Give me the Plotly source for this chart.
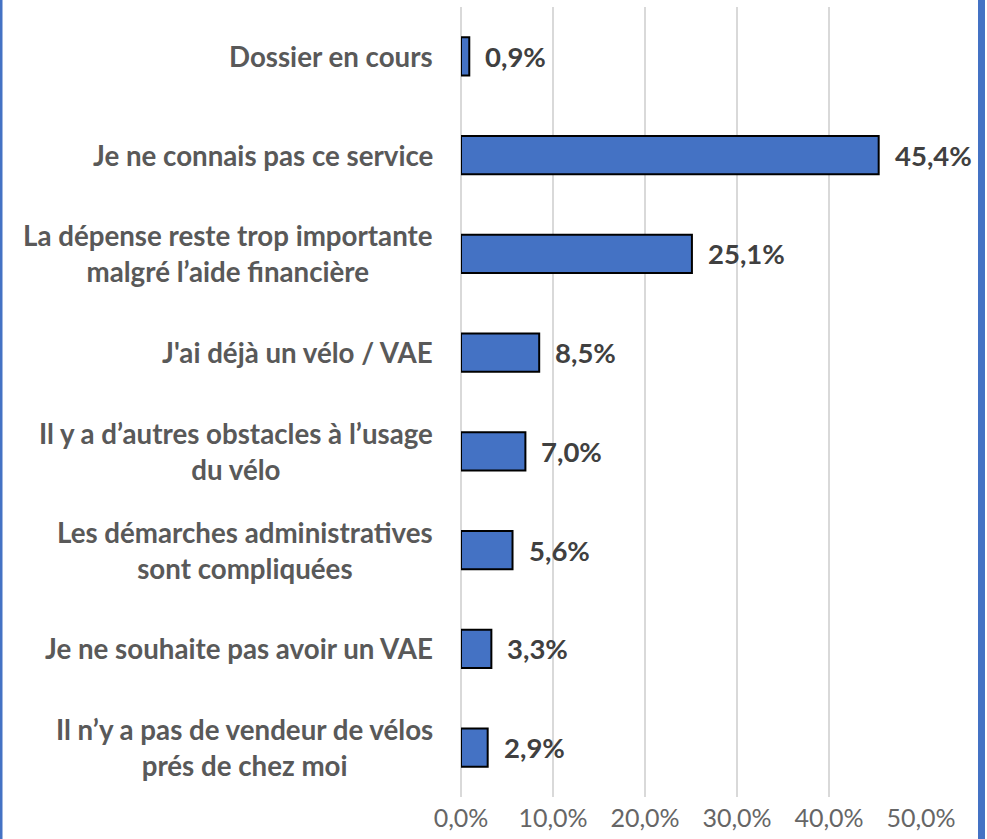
import plotly.graph_objects as go

categories = [
    "Dossier en cours",
    "Je ne connais pas ce service",
    "La dépense reste trop importante<br>malgré l’aide financière",
    "J'ai déjà un vélo / VAE",
    "Il y a d’autres obstacles à l’usage<br>du vélo",
    "Les démarches administratives<br>sont compliquées",
    "Je ne souhaite pas avoir un VAE",
    "Il n’y a pas de vendeur de vélos<br>prés de chez moi",
]
values = [0.009, 0.454, 0.251, 0.085, 0.070, 0.056, 0.033, 0.029]
tick_vals = [0, 0.1, 0.2, 0.3, 0.4, 0.5]

W, H = 987, 839
L, R, T, B = 461, 66, 7, 42
pw = W - L - R

FONT = "Lato"
BLUE = "#4472C4"

fig = go.Figure()
fig.add_trace(go.Bar(
    y=categories, x=values, orientation="h",
    marker=dict(color=BLUE, line=dict(color="#000000", width=2)),
    hoverinfo="skip",
))

annotations = []
for c, v in zip(categories, values):
    annotations.append(dict(
        x=v, y=c, xref="x", yref="y", text=f"<b>{v*100:.1f}%</b>".replace(".", ","),
        showarrow=False, xanchor="left", yanchor="middle", xshift=14,
        font=dict(family=FONT, size=27.5, color="#404040"),
    ))
    annotations.append(dict(
        x=0, y=c, xref="paper", yref="y", text=f"<b>{c}</b>",
        showarrow=False, xanchor="right", yanchor="middle", xshift=-26,
        align="center",
        font=dict(family=FONT, size=27.7, color="#595959"),
    ))

shapes = [
    dict(type="rect", xref="paper", yref="paper",
         x0=(0 - L) / pw, x1=(2.5 - L) / pw, y0=-1, y1=2,
         fillcolor=BLUE, line=dict(width=0), layer="above"),
    dict(type="rect", xref="paper", yref="paper",
         x0=(978 - L) / pw, x1=(985 - L) / pw, y0=-1, y1=2,
         fillcolor=BLUE, line=dict(width=0), layer="above"),
]

fig.update_layout(
    width=W, height=H,
    margin=dict(l=L, r=R, t=T, b=B),
    paper_bgcolor="white", plot_bgcolor="white",
    bargap=0.615,
    showlegend=False,
    separators=", ",
    annotations=annotations,
    shapes=shapes,
    xaxis=dict(
        range=[0, 0.5], tickvals=tick_vals, tickformat=".1%",
        showgrid=True, gridcolor="#d9d9d9", gridwidth=1.5,
        zeroline=True, zerolinecolor="#d9d9d9", zerolinewidth=1.5,
        showline=False, ticks="", ticklen=0, ticklabelstandoff=4,
        tickfont=dict(family=FONT, size=25, color="#666666"),
        fixedrange=True,
    ),
    yaxis=dict(
        autorange="reversed", showticklabels=False, showgrid=False,
        zeroline=False, showline=False, ticks="", fixedrange=True,
    ),
)

fig.write_html(
    "out.html",
    config={"displayModeBar": False, "staticPlot": True},
    post_script="document.body.style.margin='0';document.body.style.overflow='hidden';",
)
